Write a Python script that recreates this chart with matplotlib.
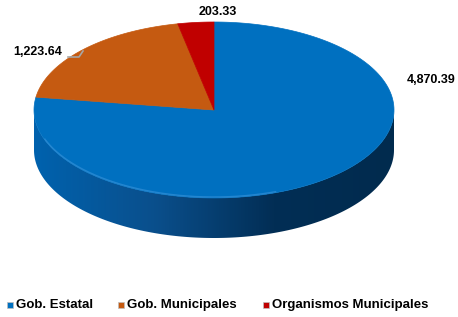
import numpy as np
import matplotlib.pyplot as plt
from matplotlib.patches import Polygon
from matplotlib.colors import LinearSegmentedColormap

categories = ['Gob. Estatal', 'Gob. Municipales', 'Organismos Municipales']
values = [4870.39, 1223.64, 203.33]
labels = ['4,870.39', '1,223.64', '203.33']
top_colors = ['#0070C0', '#C55A11', '#C00000']

plt.rcParams['font.family'] = ['Liberation Sans', 'DejaVu Sans']

fig = plt.figure(figsize=(4.58, 3.17), dpi=100)
ax = fig.add_axes([0, 0, 1, 1])
ax.axis('off')

# pie geometry in pixel units
cx, cy, rx, ry, depth = 214, 110, 180, 88, 40


def pt(t):
    t = np.radians(t)
    return cx + rx * np.cos(t), cy - ry * np.sin(t)


# side wall (front half only), blue with a dark gradient
t = np.linspace(180, 360, 200)
xs, ys = pt(t)
wall = np.column_stack([np.r_[xs, xs[::-1]], np.r_[ys, ys[::-1] + depth]])
wall_patch = Polygon(wall, closed=True, facecolor='none', edgecolor='none')
ax.add_patch(wall_patch)
cmap = LinearSegmentedColormap.from_list('side', ['#0062AE', '#0A4F8C', '#022E55', '#012B4E'])
grad = np.linspace(0, 1, 256).reshape(1, -1)
im = ax.imshow(grad, cmap=cmap, extent=[cx - rx, cx + rx, cy + ry + depth, cy - 5],
               aspect='auto', zorder=1)
im.set_clip_path(wall_patch)

# top face slices, starting at 12 o'clock going clockwise
total = sum(values)
start = 90.0
for v, c in zip(values, top_colors):
    sweep = 360 * v / total
    ang = np.linspace(start, start - sweep, 200)
    ax_, ay_ = pt(ang)
    poly = np.column_stack([np.r_[cx, ax_], np.r_[cy, ay_]])
    ax.add_patch(Polygon(poly, closed=True, facecolor=c, edgecolor=c, lw=0.5, zorder=2))
    start -= sweep

# soft highlight along the front edge of the top face
t2 = np.linspace(200, 290, 200)
hx, hy = pt(t2)
ax.plot(hx, hy - 1, color='#3C95DC', lw=1.0, alpha=0.6, zorder=3)

# data labels
ax.text(431, 80, labels[0], ha='center', va='center', fontsize=9, fontweight='bold')
ax.text(38, 52, labels[1], ha='center', va='center', fontsize=9, fontweight='bold')
ax.plot([68, 79, 83], [57, 57, 51], color='#A6A6A6', lw=1.2, zorder=3)
ax.text(218, 12, labels[2], ha='center', va='center', fontsize=9, fontweight='bold')

# legend
leg_x = [10, 121, 266]
for x, c, name in zip(leg_x, top_colors, categories):
    ax.scatter([x], [305], marker='s', s=14, color=c, edgecolors='#BFBFBF', linewidths=0.5, zorder=4)
    ax.text(x + 6, 305, name, ha='left', va='center', fontsize=9.5, fontweight='bold')

ax.set_xlim(0, 458)
ax.set_ylim(317, 0)

fig.savefig('out.png', dpi=100)
